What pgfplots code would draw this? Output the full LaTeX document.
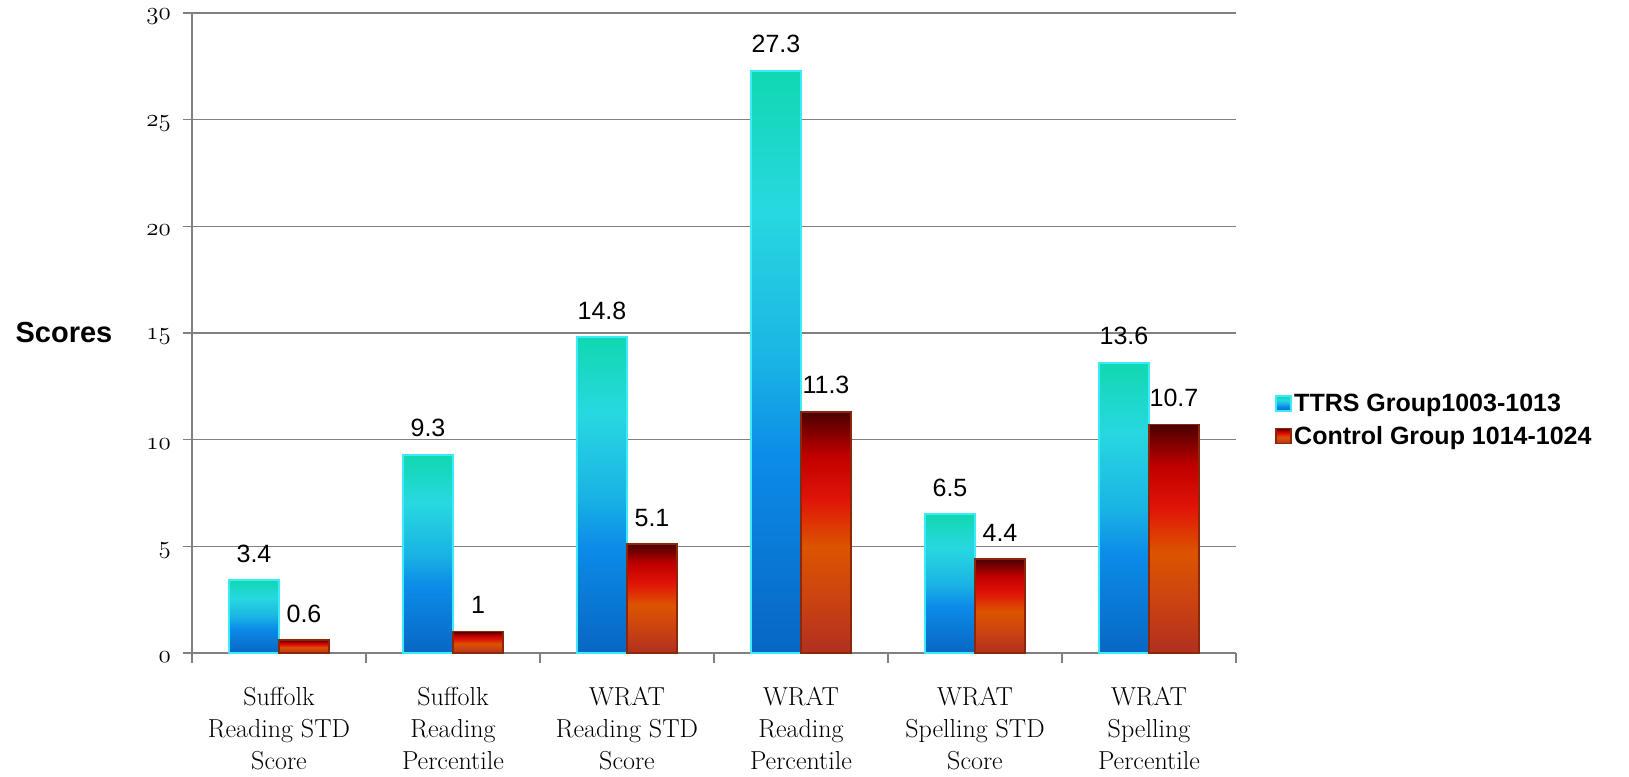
\documentclass[border=0pt]{standalone}
\usepackage{pgfplots}
\pgfplotsset{compat=1.18}
\usepackage{fontspec}
\newfontfamily\arialfont{Liberation Sans}

\definecolor{gridgray}{RGB}{128,128,128}
\definecolor{ttrsedge}{RGB}{60,235,250}
\definecolor{ctrledge}{RGB}{140,40,10}
% TTRS bar gradient, bottom to top
\definecolor{tA}{RGB}{8,102,196}
\definecolor{tB}{RGB}{12,140,232}
\definecolor{tC}{RGB}{26,180,228}
\definecolor{tD}{RGB}{40,216,224}
\definecolor{tE}{RGB}{16,216,176}
% control bar gradient, bottom to top
\definecolor{cA}{RGB}{176,48,32}
\definecolor{cB}{RGB}{204,68,16}
\definecolor{cC}{RGB}{220,84,0}
\definecolor{cD}{RGB}{224,20,8}
\definecolor{cE}{RGB}{192,0,0}
\definecolor{cF}{RGB}{76,0,0}
\pgfdeclareverticalshading{ttrsshade}{100bp}{color(0bp)=(tA); color(25bp)=(tA); color(42bp)=(tB); color(50bp)=(tC); color(63bp)=(tD); color(75bp)=(tE); color(100bp)=(tE)}
\pgfdeclareverticalshading{ctrlshade}{100bp}{color(0bp)=(cA); color(25bp)=(cA); color(37bp)=(cB); color(47bp)=(cC); color(57bp)=(cD); color(66bp)=(cE); color(75bp)=(cF); color(100bp)=(cF)}

\pgfplotsset{
  ttrs/.style={shade, shading=ttrsshade, draw=ttrsedge, line width=2pt, bar shift=-25pt},
  ctrl/.style={shade, shading=ctrlshade, draw=ctrledge, line width=1.5pt, bar shift=25pt},
}

\begin{document}
\begin{tikzpicture}
\begin{axis}[
  at={(192pt,123pt)}, anchor=south west,
  scale only axis, width=1044pt, height=640pt,
  ybar=0pt, bar width=50pt,
  xmin=-0.5, xmax=5.5, ymin=0, ymax=30,
  axis x line*=bottom, axis y line*=left,
  axis line style={gridgray, line width=1.5pt},
  xtick={0,...,5},
  minor xtick={-0.5,0.5,...,5.5},
  ytick={0,5,...,30},
  ymajorgrids, grid style={gridgray, line width=1.5pt},
  tick align=outside,
  major tick length=9pt, minor tick length=10pt,
  major x tick style={draw=none},
  minor x tick style={gridgray, line width=1.5pt},
  y tick style={gridgray, line width=1.5pt},
  /pgf/number format/assume math mode=true,
  yticklabel={{\usefont{OML}{cmm}{m}{it}\pgfmathprintnumber{\tick}}},
  yticklabel style={font=\fontsize{28}{28}\selectfont, inner sep=0pt, xshift=-12pt, yshift=-4pt},
  xticklabel style={font=\fontsize{26}{32}\selectfont, align=center, inner sep=0pt, yshift=-25pt},
  xticklabels={{Suffolk\\Reading STD\\Score},{Suffolk\\Reading\\Percentile},{WRAT\\Reading STD\\Score},{WRAT\\Reading\\Percentile},{WRAT\\Spelling STD\\Score},{WRAT\\Spelling\\Percentile}},
  nodes near coords,
  nodes near coords style={font=\arialfont\fontsize{25}{25}\selectfont, inner sep=0pt, anchor=south, yshift=17pt, text=black},
  ylabel={Scores},
  ylabel style={rotate=-90, at={(axis description cs:-0.1226,0.5)}, anchor=center, font=\arialfont\bfseries\fontsize{29}{29}\selectfont},
  legend style={draw=none, fill=none, inner sep=0pt, row sep=9pt,
    at={(axis description cs:1.0374,0.364)}, anchor=west,
    font=\arialfont\bfseries\fontsize{25}{25}\selectfont},
  legend cell align=left,
  legend image code/.code={\path[#1] (0pt,-7.5pt) rectangle (15pt,7.5pt);},
]
% one plot per bar, so that each bar gets its own gradient
\addplot[ttrs] coordinates {(0,3.4)};
\addplot[ctrl] coordinates {(0,0.6)};
\addplot[ttrs, forget plot] coordinates {(1,9.3)};
\addplot[ctrl, forget plot] coordinates {(1,1)};
\addplot[ttrs, forget plot] coordinates {(2,14.8)};
\addplot[ctrl, forget plot] coordinates {(2,5.1)};
\addplot[ttrs, forget plot] coordinates {(3,27.3)};
\addplot[ctrl, forget plot] coordinates {(3,11.3)};
\addplot[ttrs, forget plot] coordinates {(4,6.5)};
\addplot[ctrl, forget plot] coordinates {(4,4.4)};
\addplot[ttrs, forget plot] coordinates {(5,13.6)};
\addplot[ctrl, forget plot] coordinates {(5,10.7)};
\legend{TTRS Group1003-1013, Control Group 1014-1024}
\end{axis}
\pgfresetboundingbox
\useasboundingbox (0,0) rectangle (1629pt,776pt);
\end{tikzpicture}
\end{document}
